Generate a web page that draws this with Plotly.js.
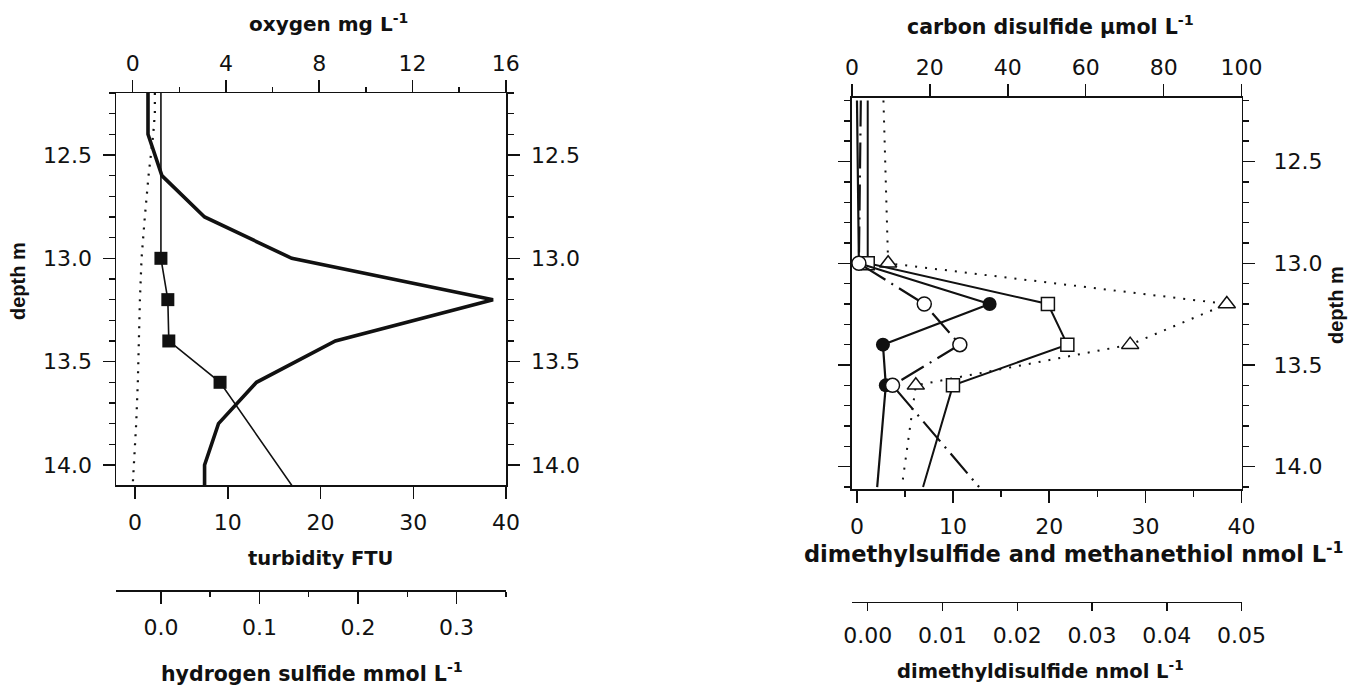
<!DOCTYPE html>
<html>
<head>
<meta charset="utf-8">
<script src="https://cdn.plot.ly/plotly-3.0.1.min.js"></script>
<style>html,body{margin:0;padding:0;background:#fff;}#chart{width:1351px;height:688px;}</style>
</head>
<body>
<div id="chart"></div>
<script>
// ---------- Left panel data ----------
const oxygenDepth = [12.2, 12.3, 12.4, 12.5, 12.6, 12.8, 13.0, 13.2, 13.4, 13.6, 13.8, 14.0, 14.1];
const oxygenVal   = [0.95, 0.95, 0.88, 0.78, 0.68, 0.52, 0.38, 0.31, 0.28, 0.22, 0.15, 0.04, 0.0];

const turbDepth = [12.2, 12.4, 12.6, 12.8, 13.0, 13.2, 13.4, 13.6, 13.8, 14.0, 14.1];
const turbVal   = [1.4, 1.4, 2.9, 7.5, 16.9, 38.6, 21.6, 13.1, 9.0, 7.5, 7.5];

const h2sDepth = [12.2, 13.0, 13.2, 13.4, 13.6, 14.1];
const h2sVal   = [0.0, 0.0, 0.007, 0.008, 0.060, 0.133];

// ---------- Right panel data ----------
const cs2Depth = [12.2, 13.0, 13.2, 13.4, 13.6, 14.1];
const cs2Val   = [8.1, 9.3, 96.2, 71.4, 16.4, 12.8];          // carbon disulfide, umol/L

const dmdsDepth = [12.2, 13.0, 13.2, 13.4, 13.6, 14.1];
const dmdsVal   = [0.0, 0.0, 0.0241, 0.0267, 0.0114, 0.0074]; // dimethyldisulfide, nmol/L

const dmsDepth = [12.2, 13.0, 13.2, 13.4, 13.6, 14.1];
const dmsVal   = [0.0, 0.2, 13.8, 2.7, 3.0, 2.1];             // dimethylsulfide, nmol/L

const meshDepth = [12.2, 13.0, 13.2, 13.4, 13.6, 14.1];
const meshVal   = [0.4, 0.2, 7.0, 10.7, 3.7, 12.7];           // methanethiol, nmol/L

const sampleDepths = [13.0, 13.2, 13.4, 13.6];

// tick labels
const oxygenTicks = [0, 4, 8, 12, 16];
const turbTicks = [0, 10, 20, 30, 40];
const h2sTicks = [0.0, 0.1, 0.2, 0.3];
const depthTicks = [12.5, 13.0, 13.5, 14.0];
const cs2Ticks = [0, 20, 40, 60, 80, 100];
const dmsTicks = [0, 10, 20, 30, 40];
const dmdsTicks = [0.00, 0.01, 0.02, 0.03, 0.04, 0.05];

function sampled(depths, vals) {
  const d = [], v = [];
  depths.forEach((z, i) => { if (sampleDepths.indexOf(z) >= 0) { d.push(z); v.push(vals[i]); } });
  return {d, v};
}

const K = '#111';
const W = 1351, H = 688;
const px = x => x / W;
const py = y => 1 - y / H;

const tickFont = {family: 'DejaVu Sans', size: 22, color: K};
const base = {
  showgrid: false, zeroline: false, showline: true, linecolor: K, linewidth: 1.5,
  ticks: 'outside', tickcolor: K, tickwidth: 1.5, ticklen: 12, tickfont: tickFont,
  fixedrange: true, tickmode: 'array'
};
const minorY = {tickmode: 'linear', tick0: 12.2, dtick: 0.1, ticklen: 6, tickwidth: 1.5, tickcolor: K, ticks: 'outside'};

const hS = sampled(h2sDepth, h2sVal);
const cS = sampled(cs2Depth, cs2Val);
const dS = sampled(dmdsDepth, dmdsVal);
const mS = sampled(dmsDepth, dmsVal);
const eS = sampled(meshDepth, meshVal);

const traces = [
  // left panel
  {x: oxygenVal, y: oxygenDepth, xaxis: 'x', yaxis: 'y', mode: 'lines', name: 'oxygen',
   line: {color: K, width: 2.2, dash: '2px,7px'}},
  {x: turbVal, y: turbDepth, xaxis: 'x2', yaxis: 'y2', mode: 'lines', name: 'turbidity',
   line: {color: K, width: 3.6}},
  {x: h2sVal, y: h2sDepth, xaxis: 'x3', yaxis: 'y', mode: 'lines', name: 'hydrogen sulfide',
   line: {color: K, width: 1.6}},
  {x: hS.v, y: hS.d, xaxis: 'x3', yaxis: 'y', mode: 'markers', showlegend: false,
   marker: {symbol: 'square', size: 13, color: K}},
  // right panel
  {x: cs2Val, y: cs2Depth, xaxis: 'x4', yaxis: 'y3', mode: 'lines', name: 'carbon disulfide',
   line: {color: K, width: 2, dash: '2px,8px'}},
  {x: cS.v, y: cS.d, xaxis: 'x4', yaxis: 'y3', mode: 'markers', showlegend: false,
   marker: {symbol: 'triangle-up', size: 15, color: 'white', line: {color: K, width: 1.5}}},
  {x: dmdsVal, y: dmdsDepth, xaxis: 'x5', yaxis: 'y4', mode: 'lines', name: 'dimethyldisulfide',
   line: {color: K, width: 2}},
  {x: dS.v, y: dS.d, xaxis: 'x5', yaxis: 'y4', mode: 'markers', showlegend: false,
   marker: {symbol: 'square', size: 13, color: 'white', line: {color: K, width: 1.5}}},
  {x: dmsVal, y: dmsDepth, xaxis: 'x6', yaxis: 'y3', mode: 'lines', name: 'dimethylsulfide',
   line: {color: K, width: 2.2}},
  {x: meshVal, y: meshDepth, xaxis: 'x6', yaxis: 'y3', mode: 'lines', name: 'methanethiol',
   line: {color: K, width: 2.2, dash: '26px,7px,2px,7px'}},
  {x: mS.v, y: mS.d, xaxis: 'x6', yaxis: 'y3', mode: 'markers', showlegend: false,
   marker: {symbol: 'circle', size: 14, color: K}},
  {x: eS.v, y: eS.d, xaxis: 'x6', yaxis: 'y3', mode: 'markers', showlegend: false,
   marker: {symbol: 'circle', size: 14, color: 'white', line: {color: K, width: 1.5}}}
];

const leftX = [px(116), px(506)];
const leftY = [py(485), py(93)];
const rightX = [px(851.5), px(1241.7)];
const rightY = [py(489.3), py(97.7)];

function tf(size) { return {family: 'DejaVu Sans', size: size, color: K, weight: 'bold'}; }
const vTitleFont = {family: 'Liberation Sans', size: 20, color: K, weight: 'bold'};
function ann(text, x, y, font, angle) {
  return {text, x: px(x), y: py(y), xref: 'paper', yref: 'paper', showarrow: false,
          xanchor: 'center', yanchor: 'middle', font, textangle: angle || 0};
}

const layout = {
  width: W, height: H,
  margin: {l: 0, r: 0, t: 0, b: 0},
  paper_bgcolor: 'white', plot_bgcolor: 'rgba(0,0,0,0)',
  showlegend: false,
  xaxis: Object.assign({}, base, {domain: leftX, anchor: 'y', side: 'top', range: [-0.716, 16.01],
    tickvals: oxygenTicks, ticktext: oxygenTicks.map(String),
    minor: {tickmode: 'linear', tick0: 0, dtick: 2, ticklen: 5, tickwidth: 1.5, tickcolor: K, ticks: 'outside'}}),
  xaxis2: Object.assign({}, base, {domain: leftX, anchor: 'y', side: 'bottom', overlaying: 'x', range: [-2.05, 40],
    tickvals: turbTicks, ticktext: turbTicks.map(String), ticklabelstandoff: 5}),
  xaxis3: Object.assign({}, base, {domain: leftX, anchor: 'free', position: py(590), side: 'bottom', overlaying: 'x',
    range: [-0.0456, 0.3502], tickvals: h2sTicks, ticktext: h2sTicks.map(v => v.toFixed(1)), ticklabelstandoff: 5,
    minor: {tickmode: 'linear', tick0: 0, dtick: 0.05, ticklen: 5, tickwidth: 1.5, tickcolor: K, ticks: 'outside'}}),
  yaxis: Object.assign({}, base, {domain: leftY, anchor: 'x', side: 'left', range: [14.097, 12.2],
    tickvals: depthTicks, ticktext: depthTicks.map(v => v.toFixed(1)), minor: minorY, ticklabelstandoff: 6}),
  yaxis2: Object.assign({}, base, {domain: leftY, anchor: 'x', side: 'right', overlaying: 'y', range: [14.097, 12.2],
    tickvals: depthTicks, ticktext: depthTicks.map(v => v.toFixed(1)), minor: minorY, ticklabelstandoff: 7}),
  xaxis4: Object.assign({}, base, {domain: rightX, anchor: 'y3', side: 'top', range: [-0.1, 100.02],
    tickvals: cs2Ticks, ticktext: cs2Ticks.map(String)}),
  xaxis5: Object.assign({}, base, {domain: rightX, anchor: 'free', position: py(601.7), side: 'bottom', overlaying: 'x4',
    range: [-0.00217, 0.05002], tickvals: dmdsTicks, ticktext: dmdsTicks.map(v => v.toFixed(2)), ticklen: 8, ticklabelstandoff: 5}),
  xaxis6: Object.assign({}, base, {domain: rightX, anchor: 'y3', side: 'bottom', overlaying: 'x4', range: [-0.57, 40.02],
    tickvals: dmsTicks, ticktext: dmsTicks.map(String), ticklabelstandoff: 5,
    minor: {tickmode: 'linear', tick0: 0, dtick: 5, ticklen: 6, tickwidth: 1.5, tickcolor: K, ticks: 'outside'}}),
  yaxis3: Object.assign({}, base, {domain: rightY, anchor: 'x4', side: 'left', range: [14.111, 12.186],
    tickvals: depthTicks, showticklabels: false, minor: minorY}),
  yaxis4: Object.assign({}, base, {domain: rightY, anchor: 'x4', side: 'right', overlaying: 'y3', range: [14.111, 12.186],
    tickvals: depthTicks, ticktext: depthTicks.map(v => v.toFixed(1)), minor: minorY, ticklabelstandoff: 14}),
  annotations: [
    ann('oxygen mg L<sup>-1</sup>', 328, 23, tf(20)),
    ann('turbidity FTU', 320, 558, tf(19.5)),
    ann('hydrogen sulfide mmol L<sup>-1</sup>', 312, 672, tf(20.5)),
    ann('depth m', 18, 281, vTitleFont, -90),
    ann('carbon disulfide μmol L<sup>-1</sup>', 1050, 26, tf(20.5)),
    ann('dimethylsulfide and methanethiol nmol L<sup>-1</sup>', 1074, 552, tf(22.5)),
    ann('dimethyldisulfide nmol L<sup>-1</sup>', 1040, 670, tf(19.5)),
    ann('depth m', 1336, 305, vTitleFont, -90)
  ]
};

Plotly.newPlot('chart', traces, layout, {displayModeBar: false, staticPlot: true});
</script>
</body>
</html>
